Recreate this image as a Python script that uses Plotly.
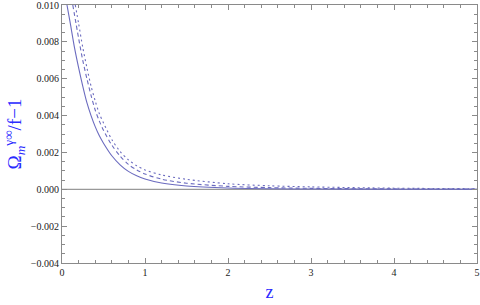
import plotly.graph_objects as go

# solid curve
z_solid = [0.06, 0.1, 0.15, 0.2, 0.25, 0.3, 0.35, 0.4, 0.45, 0.5, 0.6, 0.7, 0.8, 0.9, 1.0, 1.2, 1.5, 2.0, 2.5, 3.0, 4.0, 5.0]
y_solid = [0.0100, 0.0090, 0.0077, 0.0066, 0.0056, 0.0047, 0.0040, 0.0034, 0.0029, 0.0025,
           0.00182, 0.00133, 0.00097, 0.00073, 0.00056, 0.00034, 0.00018, 0.00007, 0.00003,
           0.000012, 0.000003, 0.000001]

# dashed curve
z_dashed = [0.13, 0.2, 0.25, 0.3, 0.35, 0.4, 0.45, 0.5, 0.6, 0.7, 0.8, 0.9, 1.0, 1.2, 1.5, 2.0, 2.5, 3.0, 4.0, 5.0]
y_dashed = [0.0100, 0.0082, 0.0070, 0.0060, 0.0051, 0.0043, 0.0037, 0.0032, 0.0024, 0.0018,
            0.00135, 0.00105, 0.00083, 0.00055, 0.00033, 0.00016, 0.00009, 0.00005, 0.00002, 0.00001]

# dotted curve
z_dotted = [0.16, 0.2, 0.25, 0.3, 0.35, 0.4, 0.45, 0.5, 0.6, 0.7, 0.8, 0.9, 1.0, 1.2, 1.5, 2.0, 2.5, 3.0, 4.0, 5.0]
y_dotted = [0.0100, 0.0090, 0.0077, 0.0066, 0.0056, 0.0048, 0.0041, 0.0036, 0.0027, 0.00205,
            0.0016, 0.00128, 0.00105, 0.00078, 0.00054, 0.00030, 0.00019, 0.00013, 0.00006, 0.00003]

x_ticks = [0, 1, 2, 3, 4, 5]
y_ticks = [-0.004, -0.002, 0.0, 0.002, 0.004, 0.006, 0.008, 0.010]
y_ticklabels = ["\u22120.004", "\u22120.002", "0.000", "0.002", "0.004", "0.006", "0.008", "0.010"]

line_color = "#6b6bbf"
frame_color = "#8a8a8a"
blue = "#2a2aff"
serif = "Liberation Serif, Times New Roman, DejaVu Serif, serif"

fig = go.Figure()
fig.add_trace(go.Scatter(x=[0, 5], y=[0, 0], mode="lines",
                         line=dict(color="#999999", width=1.3), hoverinfo="skip"))
fig.add_trace(go.Scatter(x=z_solid, y=y_solid, mode="lines", line_shape="spline",
                         line=dict(color=line_color, width=1.1, smoothing=0.8)))
fig.add_trace(go.Scatter(x=z_dashed, y=y_dashed, mode="lines", line_shape="spline",
                         line=dict(color=line_color, width=1.1, dash="4px,3px", smoothing=0.8)))
fig.add_trace(go.Scatter(x=z_dotted, y=y_dotted, mode="lines", line_shape="spline",
                         line=dict(color=line_color, width=1.1, dash="2px,3px", smoothing=0.8)))

tick_font = dict(family=serif, size=10, color="#222222")

fig.update_layout(
    width=480, height=305,
    margin=dict(l=62, r=3, t=5, b=42),
    paper_bgcolor="white", plot_bgcolor="white",
    showlegend=False,
    xaxis=dict(range=[0, 5], tickvals=x_ticks, ticktext=[str(v) for v in x_ticks],
               showgrid=False, zeroline=False, showline=True, linecolor=frame_color, linewidth=1,
               mirror="ticks", ticks="inside", ticklen=5, tickcolor=frame_color, tickwidth=1,
               minor=dict(dtick=0.2, ticks="inside", ticklen=3, tickcolor=frame_color, showgrid=False),
               tickfont=tick_font, ticklabeloverflow="allow", automargin=False,
               title=dict(text="z", font=dict(family=serif, size=18, color=blue),
                          standoff=8)),
    yaxis=dict(range=[-0.004, 0.010], tickvals=y_ticks, ticktext=y_ticklabels,
               showgrid=False, zeroline=False, showline=True, linecolor=frame_color, linewidth=1,
               mirror="ticks", ticks="inside", ticklen=5, tickcolor=frame_color, tickwidth=1,
               minor=dict(dtick=0.0005, ticks="inside", ticklen=3, tickcolor=frame_color, showgrid=False),
               tickfont=tick_font, ticklabeloverflow="allow", automargin=False,
               title=dict(text="\u03a9<sub><i>m</i></sub><sup>\u03b3\u221e</sup>/f\u22121",
                          font=dict(family=serif, size=19, color=blue),
                          standoff=4)),
)

fig.write_html("out.html", config={"displayModeBar": False},
               post_script="document.body.style.margin='0';")
